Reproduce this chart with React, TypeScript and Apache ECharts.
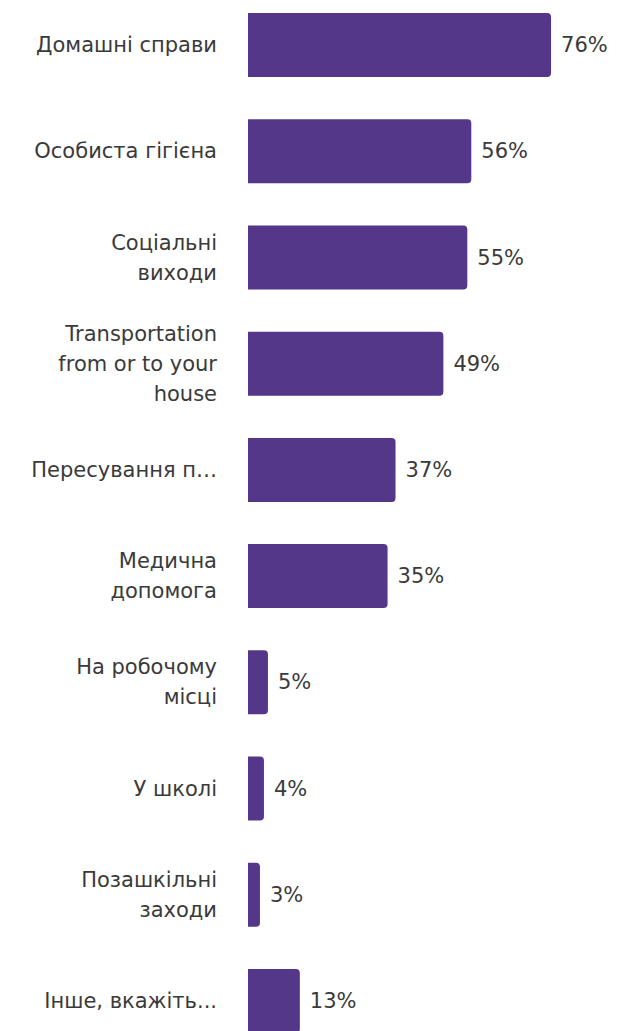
import React, { useEffect, useRef } from "react";
import * as echarts from "echarts";

const categories: string[] = [
  "Домашні справи",
  "Особиста гігієна",
  "Соціальні\nвиходи",
  "Transportation\nfrom or to your\nhouse",
  "Пересування п…",
  "Медична\nдопомога",
  "На робочому\nмісці",
  "У школі",
  "Позашкільні\nзаходи",
  "Інше, вкажіть...",
];

const values: number[] = [76, 56, 55, 49, 37, 35, 5, 4, 3, 13];

const BAR_COLOR = "#553789";
const TEXT_COLOR = "#3a3a3a";
const FONT = "DejaVu Sans";

export default function App() {
  const ref = useRef<HTMLDivElement>(null);

  useEffect(() => {
    if (!ref.current) return;
    const chart = echarts.init(ref.current, undefined, { renderer: "svg" });
    chart.setOption({
      animation: false,
      grid: {
        left: 248,
        width: 319,
        top: 0,
        bottom: 0,
        containLabel: false,
      },
      xAxis: {
        type: "value",
        min: 0,
        max: 80,
        show: false,
        splitLine: { show: false },
      },
      yAxis: {
        type: "category",
        inverse: true,
        data: categories,
        axisLine: { show: false },
        axisTick: { show: false },
        axisLabel: {
          margin: 31,
          color: TEXT_COLOR,
          fontFamily: FONT,
          fontSize: 21,
          lineHeight: 30,
          align: "right",
        },
      },
      series: [
        {
          type: "bar",
          data: values,
          barWidth: 64,
          itemStyle: {
            color: BAR_COLOR,
            borderRadius: [0, 4, 4, 0],
          },
          label: {
            show: true,
            position: "right",
            distance: 10,
            color: TEXT_COLOR,
            fontFamily: FONT,
            fontSize: 21,
            formatter: (p: any) => `${p.value}%`,
          },
        },
      ],
    });
    return () => chart.dispose();
  }, []);

  return (
    <div
      ref={ref}
      style={{ position: "absolute", left: 0, top: -8, width: 632, height: 1062 }}
    />
  );
}
